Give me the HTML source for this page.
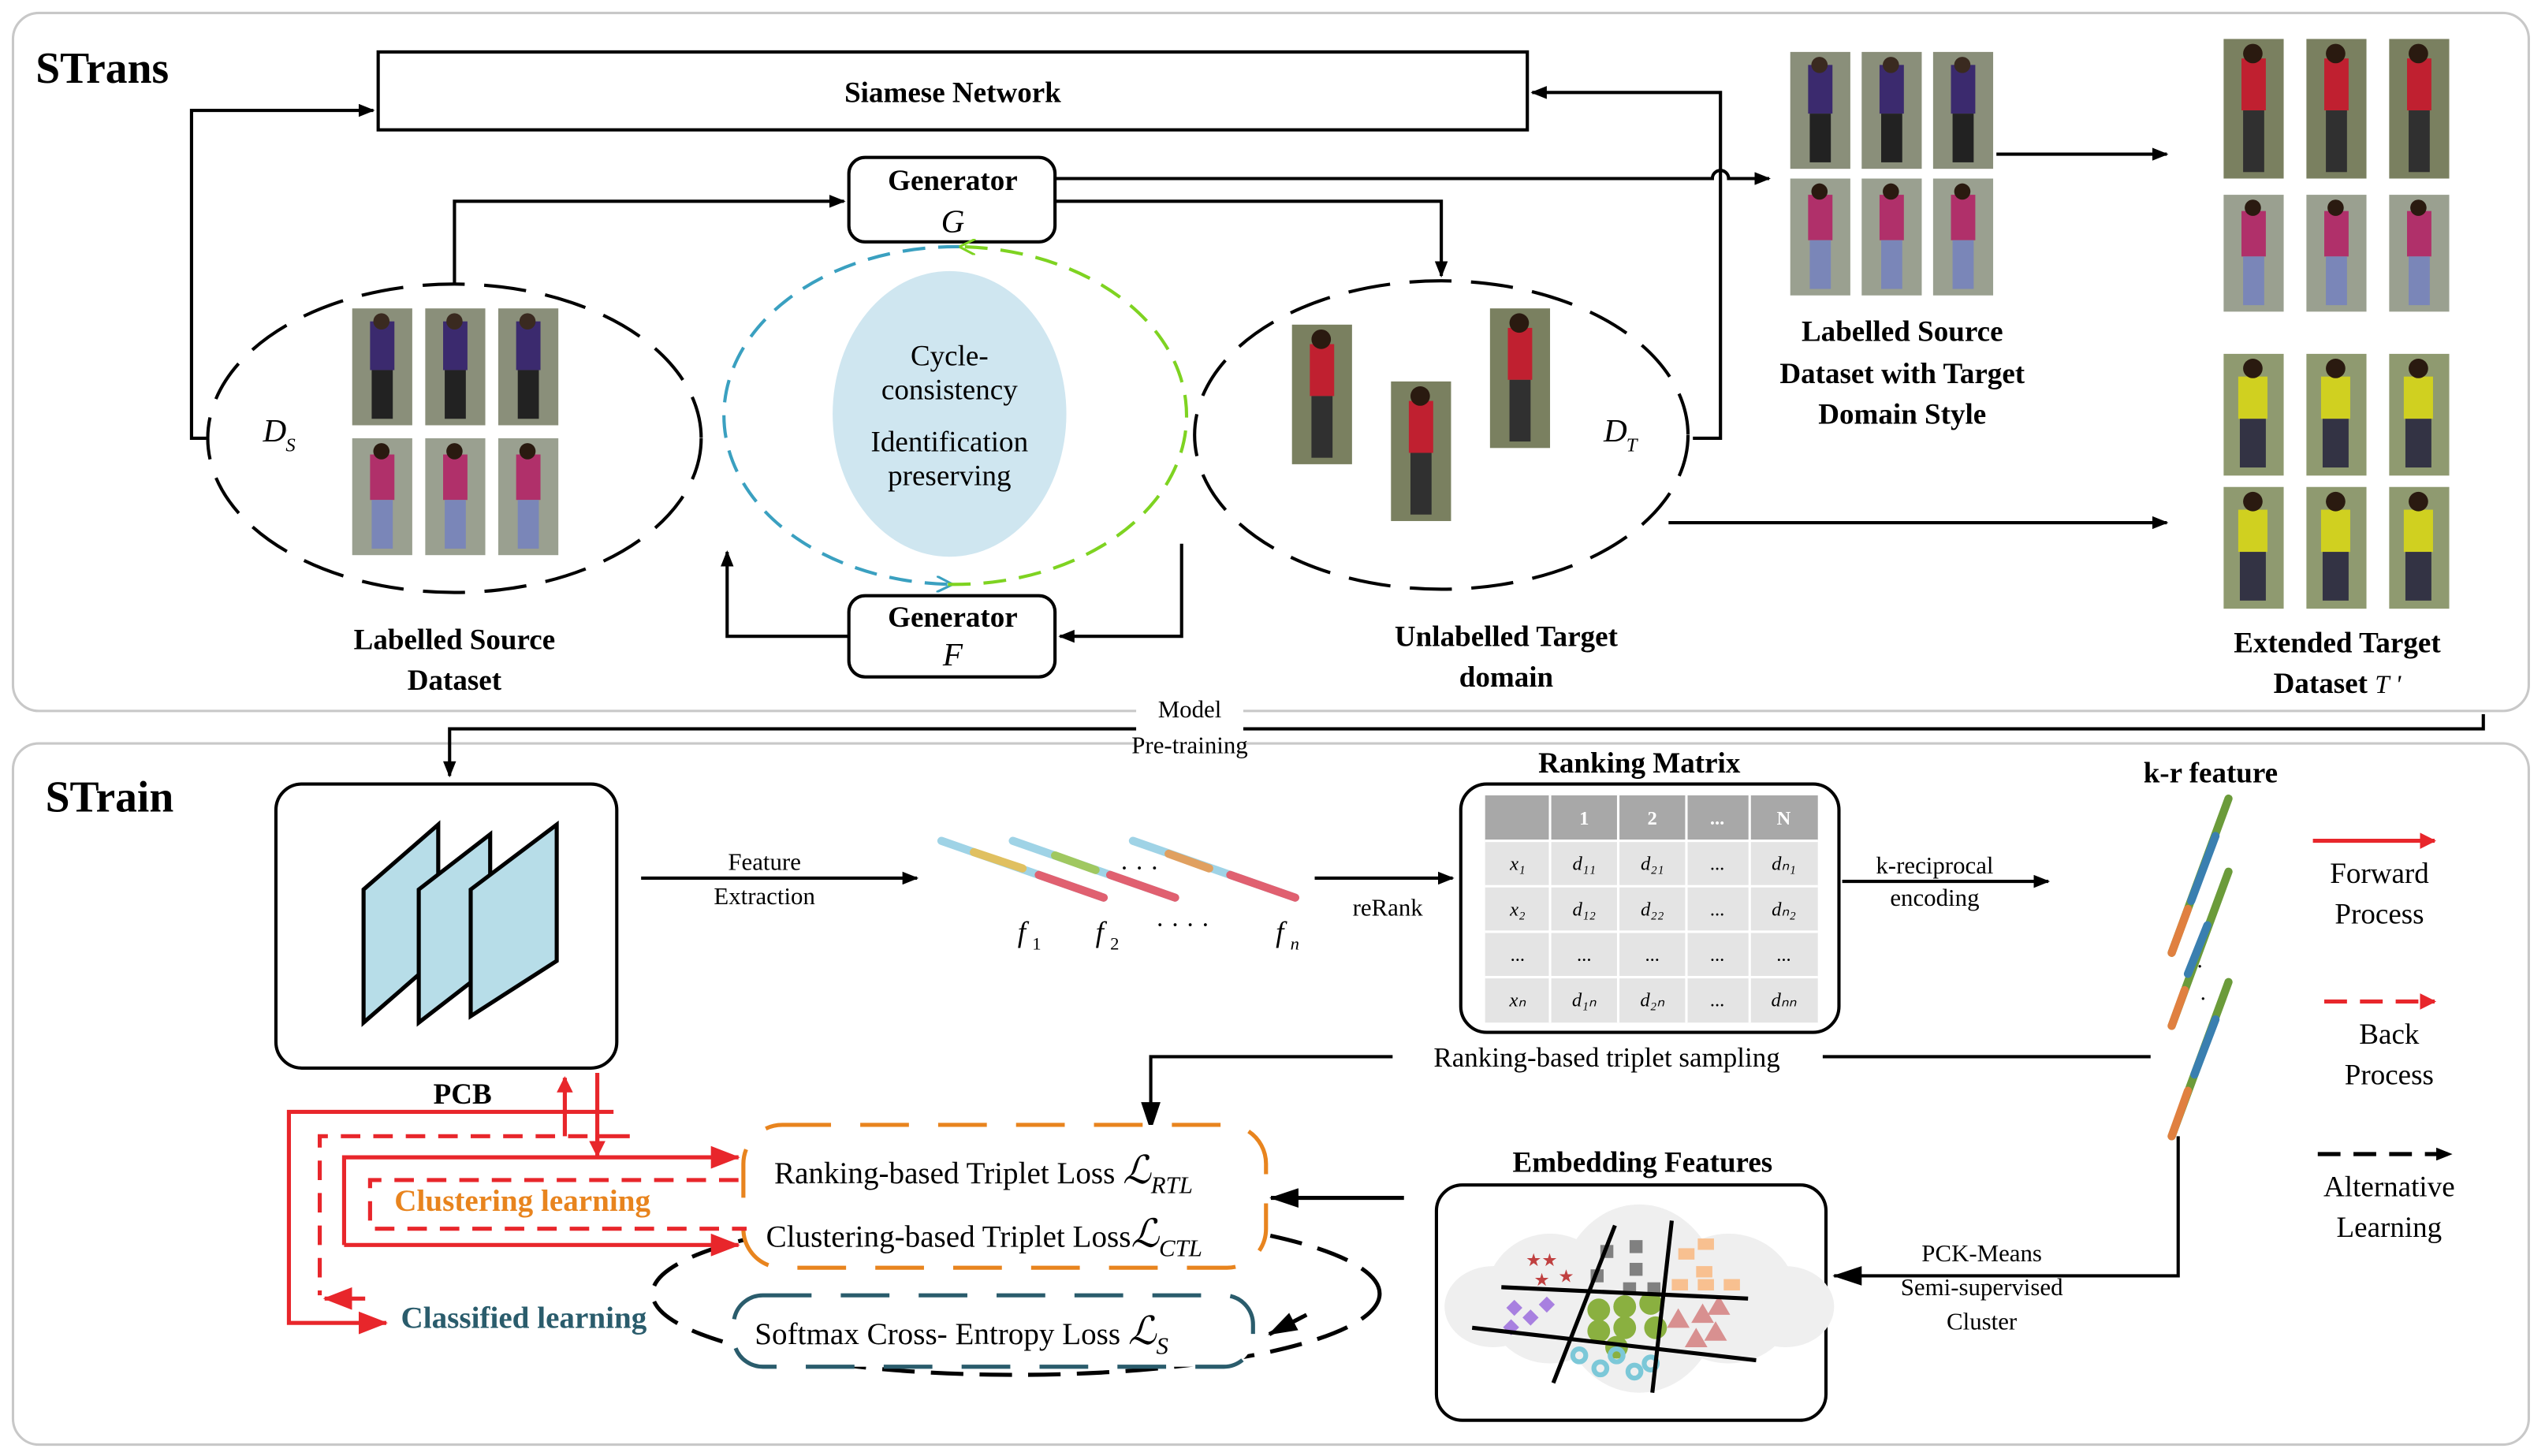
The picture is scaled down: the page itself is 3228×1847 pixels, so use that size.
<!DOCTYPE html>
<html><head><meta charset="utf-8"><style>
html,body{margin:0;padding:0;background:#fff;}
svg{display:block;}
text{font-family:"Liberation Serif",serif;}
.b{font-weight:bold;}
</style></head><body>
<svg width="3228" height="1847" viewBox="0 0 1568 897" preserveAspectRatio="none" xmlns="http://www.w3.org/2000/svg">
<defs>
<marker id="ab" markerWidth="10" markerHeight="8" refX="9" refY="4" orient="auto" markerUnits="userSpaceOnUse"><path d="M0,0 L10,4 L0,8 z" fill="#000"/></marker>
<marker id="abL" markerWidth="18" markerHeight="12" refX="17" refY="6" orient="auto" markerUnits="userSpaceOnUse"><path d="M0,0 L18,6 L0,12 z" fill="#000"/></marker>
<marker id="ar" markerWidth="18" markerHeight="14" refX="17" refY="7" orient="auto" markerUnits="userSpaceOnUse"><path d="M0,0 L18,7 L0,14 z" fill="#e8262b"/></marker>
<marker id="ars" markerWidth="10" markerHeight="10" refX="9" refY="5" orient="auto" markerUnits="userSpaceOnUse"><path d="M0,0 L10,5 L0,10 z" fill="#e8262b"/></marker>
<marker id="ag" markerWidth="10" markerHeight="10" refX="9" refY="5" orient="auto" markerUnits="userSpaceOnUse"><path d="M0,0 L10,5 L0,10" fill="none" stroke="#7ed321" stroke-width="1.5"/></marker>
<marker id="abl" markerWidth="10" markerHeight="10" refX="9" refY="5" orient="auto" markerUnits="userSpaceOnUse"><path d="M0,0 L10,5 L0,10" fill="none" stroke="#3aa0c0" stroke-width="1.5"/></marker>
<g id="p1"><rect width="37" height="72" fill="#8a8f7a"/><rect x="11" y="8" width="15" height="30" fill="#3b2a6e"/><rect x="12" y="38" width="13" height="30" fill="#222"/><circle cx="18" cy="8" r="5" fill="#3a2a20"/></g>
<g id="p2"><rect width="37" height="72" fill="#9aa090"/><rect x="11" y="10" width="15" height="28" fill="#b0306a"/><rect x="12" y="38" width="13" height="30" fill="#7a86b8"/><circle cx="18" cy="8" r="5" fill="#2a1a10"/></g>
<g id="p3"><rect width="37" height="86" fill="#7a8060"/><rect x="11" y="12" width="15" height="32" fill="#c02030"/><rect x="12" y="44" width="13" height="38" fill="#303030"/><circle cx="18" cy="9" r="6" fill="#2a1a10"/></g>
<g id="p4"><rect width="37" height="75" fill="#8f9a70"/><rect x="9" y="14" width="18" height="26" fill="#d0d020"/><rect x="10" y="40" width="16" height="30" fill="#334"/><circle cx="18" cy="9" r="6" fill="#2a1a10"/></g>
</defs>

<rect x="8" y="8" width="1550" height="430" rx="16" fill="none" stroke="#c8c8c8" stroke-width="1.5"/>
<rect x="8" y="458" width="1550" height="432" rx="16" fill="none" stroke="#c8c8c8" stroke-width="1.5"/>
<text x="22" y="51" font-size="27" class="b">STrans</text>
<text x="28" y="500" font-size="27" class="b">STrain</text>

<rect x="233" y="32" width="708" height="48" fill="#fff" stroke="#000" stroke-width="2"/>
<text x="587" y="63" font-size="18" class="b" text-anchor="middle">Siamese Network</text>
<path d="M127,270 L118,270 L118,68 L230,68" fill="none" stroke="#000" stroke-width="2" marker-end="url(#ab)"/>
<path d="M1043,270 L1060,270 L1060,57 L944,57" fill="none" stroke="#000" stroke-width="2" marker-end="url(#ab)"/>

<rect x="523" y="97" width="127" height="52" rx="10" fill="#fff" stroke="#000" stroke-width="2"/>
<text x="587" y="117" font-size="18" class="b" text-anchor="middle">Generator</text>
<text x="587" y="143" font-size="20" font-style="italic" text-anchor="middle">G</text>
<rect x="523" y="367" width="127" height="50" rx="10" fill="#fff" stroke="#000" stroke-width="2"/>
<text x="587" y="386" font-size="18" class="b" text-anchor="middle">Generator</text>
<text x="587" y="410" font-size="20" font-style="italic" text-anchor="middle">F</text>
<path d="M280,175 L280,124 L520,124" fill="none" stroke="#000" stroke-width="2" marker-end="url(#ab)"/>
<path d="M650,124 L888,124 L888,170" fill="none" stroke="#000" stroke-width="2" marker-end="url(#ab)"/>
<path d="M650,110 L1055,110 A5,5 0 0 1 1065,110 L1090,110" fill="none" stroke="#000" stroke-width="2" marker-end="url(#ab)"/>
<path d="M728,335 L728,392 L653,392" fill="none" stroke="#000" stroke-width="2" marker-end="url(#ab)"/>
<path d="M523,392 L448,392 L448,340" fill="none" stroke="#000" stroke-width="2" marker-end="url(#ab)"/>

<ellipse cx="280" cy="270" rx="152" ry="95" fill="none" stroke="#000" stroke-width="2" stroke-dasharray="26,12"/>
<ellipse cx="888" cy="268" rx="152" ry="95" fill="none" stroke="#000" stroke-width="2" stroke-dasharray="26,12"/>
<path d="M592,152 A143,104 0 0 0 586,360" fill="none" stroke="#3aa0c0" stroke-width="2" stroke-dasharray="14,8" marker-end="url(#abl)"/>
<path d="M584,360 A143,104 0 0 0 592,152" fill="none" stroke="#7ed321" stroke-width="2" stroke-dasharray="14,8" marker-end="url(#ag)"/>
<ellipse cx="585" cy="255" rx="72" ry="88" fill="#cfe6f0"/>
<text x="585" y="225" font-size="18" text-anchor="middle">Cycle-</text>
<text x="585" y="246" font-size="18" text-anchor="middle">consistency</text>
<text x="585" y="278" font-size="18" text-anchor="middle">Identification</text>
<text x="585" y="299" font-size="18" text-anchor="middle">preserving</text>

<text x="162" y="272" font-size="20" font-style="italic">D</text><text x="176" y="278" font-size="12" font-style="italic">S</text>
<text x="988" y="272" font-size="20" font-style="italic">D</text><text x="1002" y="278" font-size="12" font-style="italic">T</text>

<use href="#p1" x="217" y="190"/><use href="#p1" x="262" y="190"/><use href="#p1" x="307" y="190"/>
<use href="#p2" x="217" y="270"/><use href="#p2" x="262" y="270"/><use href="#p2" x="307" y="270"/>
<use href="#p3" x="796" y="200"/><use href="#p3" x="857" y="235"/><use href="#p3" x="918" y="190"/>
<text x="280" y="400" font-size="18" class="b" text-anchor="middle">Labelled Source</text>
<text x="280" y="425" font-size="18" class="b" text-anchor="middle">Dataset</text>
<text x="928" y="398" font-size="18" class="b" text-anchor="middle">Unlabelled Target</text>
<text x="928" y="423" font-size="18" class="b" text-anchor="middle">domain</text>

<use href="#p1" x="1103" y="32"/><use href="#p1" x="1147" y="32"/><use href="#p1" x="1191" y="32"/>
<use href="#p2" x="1103" y="110"/><use href="#p2" x="1147" y="110"/><use href="#p2" x="1191" y="110"/>
<text x="1172" y="210" font-size="18" class="b" text-anchor="middle">Labelled Source</text>
<text x="1172" y="236" font-size="18" class="b" text-anchor="middle">Dataset with Target</text>
<text x="1172" y="261" font-size="18" class="b" text-anchor="middle">Domain Style</text>
<line x1="1230" y1="95" x2="1335" y2="95" stroke="#000" stroke-width="2" marker-end="url(#ab)"/>
<line x1="1028" y1="322" x2="1335" y2="322" stroke="#000" stroke-width="2" marker-end="url(#ab)"/>

<use href="#p3" x="1370" y="24"/><use href="#p3" x="1421" y="24"/><use href="#p3" x="1472" y="24"/>
<use href="#p2" x="1370" y="120"/><use href="#p2" x="1421" y="120"/><use href="#p2" x="1472" y="120"/>
<use href="#p4" x="1370" y="218"/><use href="#p4" x="1421" y="218"/><use href="#p4" x="1472" y="218"/>
<use href="#p4" x="1370" y="300"/><use href="#p4" x="1421" y="300"/><use href="#p4" x="1472" y="300"/>
<text x="1440" y="402" font-size="18" class="b" text-anchor="middle">Extended Target</text>
<text x="1440" y="427" font-size="18" class="b" text-anchor="middle">Dataset <tspan font-weight="normal" font-style="italic" font-size="16">T '</tspan></text>

<path d="M1530,440 L1530,449 L277,449 L277,478" fill="none" stroke="#000" stroke-width="2" marker-end="url(#ab)"/>
<rect x="700" y="428" width="66" height="38" fill="#fff"/>
<text x="733" y="442" font-size="15" text-anchor="middle">Model</text>
<text x="733" y="464" font-size="15" text-anchor="middle">Pre-training</text>

<rect x="170" y="483" width="210" height="175" rx="16" fill="#fff" stroke="#000" stroke-width="2"/>
<g stroke="#000" stroke-width="2.5" fill="#b7dde8">
<path d="M224,548 L270,508 L270,590 L224,630 z"/>
<path d="M258,548 L302,514 L302,596 L258,630 z"/>
<path d="M290,548 L343,508 L343,592 L290,626 z"/>
</g>
<text x="285" y="680" font-size="18" class="b" text-anchor="middle">PCB</text>

<line x1="395" y1="541" x2="565" y2="541" stroke="#000" stroke-width="2" marker-end="url(#ab)"/>
<text x="471" y="536" font-size="15" text-anchor="middle">Feature</text>
<text x="471" y="557" font-size="15" text-anchor="middle">Extraction</text>
<g stroke-width="5" stroke-linecap="round">
<line x1="580" y1="518" x2="680" y2="553" stroke="#9fd3e6"/><line x1="640" y1="539" x2="680" y2="553" stroke="#e06070"/><line x1="600" y1="525" x2="630" y2="535" stroke="#e0c060"/>
<line x1="624" y1="518" x2="724" y2="553" stroke="#9fd3e6"/><line x1="684" y1="539" x2="724" y2="553" stroke="#e06070"/><line x1="650" y1="527" x2="675" y2="536" stroke="#a0c860"/>
<line x1="698" y1="518" x2="798" y2="553" stroke="#9fd3e6"/><line x1="758" y1="539" x2="798" y2="553" stroke="#e06070"/><line x1="720" y1="526" x2="745" y2="535" stroke="#e0a060"/>
</g>
<text x="690" y="540" font-size="16">· · ·</text>
<text x="712" y="575" font-size="16">· · · ·</text>
<text x="627" y="580" font-size="18" font-style="italic">f</text><text x="636" y="585" font-size="11">1</text>
<text x="675" y="580" font-size="18" font-style="italic">f</text><text x="684" y="585" font-size="11">2</text>
<text x="786" y="580" font-size="18" font-style="italic">f</text><text x="795" y="585" font-size="11" font-style="italic">n</text>
<line x1="810" y1="541" x2="895" y2="541" stroke="#000" stroke-width="2" marker-end="url(#ab)"/>
<text x="855" y="564" font-size="15" text-anchor="middle">reRank</text>

<text x="1010" y="476" font-size="18" class="b" text-anchor="middle">Ranking Matrix</text>
<rect x="900" y="483" width="233" height="153" rx="16" fill="#fff" stroke="#000" stroke-width="2"/>
<rect x="915" y="490" width="205" height="28" fill="#a8a8a8"/>
<rect x="915" y="518" width="205" height="112" fill="#e4e4e4"/>
<g stroke="#fff" stroke-width="1.5">
<line x1="955" y1="490" x2="955" y2="630"/><line x1="997" y1="490" x2="997" y2="630"/><line x1="1039" y1="490" x2="1039" y2="630"/><line x1="1078" y1="490" x2="1078" y2="630"/>
<line x1="915" y1="518" x2="1120" y2="518"/><line x1="915" y1="546" x2="1120" y2="546"/><line x1="915" y1="574" x2="1120" y2="574"/><line x1="915" y1="602" x2="1120" y2="602"/>
</g>
<g font-size="12" text-anchor="middle">
<text x="976" y="508" fill="#fff" class="b">1</text><text x="1018" y="508" fill="#fff" class="b">2</text><text x="1058" y="508" fill="#fff" class="b">...</text><text x="1099" y="508" fill="#fff" class="b">N</text>
<text x="935" y="536" font-style="italic">x₁</text><text x="976" y="536" font-style="italic">d₁₁</text><text x="1018" y="536" font-style="italic">d₂₁</text><text x="1058" y="536">...</text><text x="1099" y="536" font-style="italic">dₙ₁</text>
<text x="935" y="564" font-style="italic">x₂</text><text x="976" y="564" font-style="italic">d₁₂</text><text x="1018" y="564" font-style="italic">d₂₂</text><text x="1058" y="564">...</text><text x="1099" y="564" font-style="italic">dₙ₂</text>
<text x="935" y="592">...</text><text x="976" y="592">...</text><text x="1018" y="592">...</text><text x="1058" y="592">...</text><text x="1099" y="592">...</text>
<text x="935" y="620" font-style="italic">xₙ</text><text x="976" y="620" font-style="italic">d₁ₙ</text><text x="1018" y="620" font-style="italic">d₂ₙ</text><text x="1058" y="620">...</text><text x="1099" y="620" font-style="italic">dₙₙ</text>
</g>
<line x1="1135" y1="543" x2="1262" y2="543" stroke="#000" stroke-width="2" marker-end="url(#ab)"/>
<text x="1192" y="538" font-size="15" text-anchor="middle">k-reciprocal</text>
<text x="1192" y="558" font-size="15" text-anchor="middle">encoding</text>

<text x="1362" y="482" font-size="18" class="b" text-anchor="middle">k-r feature</text>
<g stroke-width="5" stroke-linecap="round">
<line x1="1373" y1="492" x2="1338" y2="587" stroke="#6b9b3a"/><line x1="1365" y1="515" x2="1350" y2="555" stroke="#3a7fb0"/><line x1="1348" y1="560" x2="1338" y2="587" stroke="#e08040"/>
<line x1="1373" y1="537" x2="1338" y2="632" stroke="#6b9b3a"/><line x1="1360" y1="570" x2="1348" y2="600" stroke="#3a7fb0"/><line x1="1346" y1="610" x2="1338" y2="632" stroke="#e08040"/>
<line x1="1373" y1="605" x2="1338" y2="700" stroke="#6b9b3a"/><line x1="1365" y1="628" x2="1352" y2="662" stroke="#3a7fb0"/><line x1="1348" y1="672" x2="1338" y2="700" stroke="#e08040"/>
</g>
<text x="1353" y="600" font-size="14">·</text><text x="1355" y="620" font-size="14">·</text>

<line x1="1425" y1="518" x2="1500" y2="518" stroke="#e8262b" stroke-width="2.5" marker-end="url(#ars)"/>
<text x="1466" y="544" font-size="18" text-anchor="middle">Forward</text>
<text x="1466" y="569" font-size="18" text-anchor="middle">Process</text>
<line x1="1432" y1="617" x2="1500" y2="617" stroke="#e8262b" stroke-width="2.5" stroke-dasharray="14,8" marker-end="url(#ars)"/>
<text x="1472" y="643" font-size="18" text-anchor="middle">Back</text>
<text x="1472" y="668" font-size="18" text-anchor="middle">Process</text>
<line x1="1428" y1="711" x2="1510" y2="711" stroke="#000" stroke-width="2.5" stroke-dasharray="14,8" marker-end="url(#ab)"/>
<text x="1472" y="737" font-size="18" text-anchor="middle">Alternative</text>
<text x="1472" y="762" font-size="18" text-anchor="middle">Learning</text>

<path d="M1325,651 L709,651 L709,696" fill="none" stroke="#000" stroke-width="2" marker-end="url(#abL)"/>
<rect x="858" y="640" width="265" height="20" fill="#fff"/>
<text x="990" y="657" font-size="17" text-anchor="middle">Ranking-based triplet sampling</text>

<path d="M1342,700 L1342,786 L1130,786" fill="none" stroke="#000" stroke-width="2" marker-end="url(#abL)"/>
<text x="1221" y="777" font-size="15" text-anchor="middle">PCK-Means</text>
<text x="1221" y="798" font-size="15" text-anchor="middle">Semi-supervised</text>
<text x="1221" y="819" font-size="15" text-anchor="middle">Cluster</text>

<text x="1012" y="722" font-size="18" class="b" text-anchor="middle">Embedding Features</text>
<rect x="885" y="730" width="240" height="145" rx="16" fill="#fff" stroke="#000" stroke-width="2"/>
<g fill="#efefef">
<ellipse cx="1010" cy="800" rx="50" ry="58"/><ellipse cx="955" cy="800" rx="40" ry="40"/><ellipse cx="1065" cy="800" rx="42" ry="40"/><ellipse cx="920" cy="805" rx="30" ry="25"/><ellipse cx="1100" cy="805" rx="30" ry="25"/>
</g>
<g fill="#c04040" font-size="11"><text x="940" y="780">★★</text><text x="960" y="790">★</text><text x="945" y="792">★</text></g>
<g fill="#808080"><rect x="986" y="767" width="8" height="8"/><rect x="1004" y="764" width="8" height="8"/><rect x="1004" y="778" width="8" height="8"/><rect x="980" y="782" width="8" height="8"/><rect x="1000" y="790" width="8" height="8"/><rect x="1015" y="790" width="8" height="8"/></g>
<g fill="#f8c090"><rect x="1034" y="769" width="10" height="7"/><rect x="1046" y="763" width="10" height="7"/><rect x="1045" y="780" width="10" height="7"/><rect x="1030" y="788" width="10" height="7"/><rect x="1046" y="788" width="10" height="7"/><rect x="1062" y="788" width="10" height="7"/></g>
<g fill="#a880e0"><rect x="930" y="802" width="7" height="7" transform="rotate(45 933 805)"/><rect x="940" y="808" width="7" height="7" transform="rotate(45 943 811)"/><rect x="950" y="800" width="7" height="7" transform="rotate(45 953 803)"/><rect x="928" y="814" width="7" height="7" transform="rotate(45 931 817)"/></g>
<g fill="#8ab040"><circle cx="985" cy="807" r="7"/><circle cx="1001" cy="805" r="7"/><circle cx="1017" cy="803" r="7"/><circle cx="985" cy="820" r="7"/><circle cx="1001" cy="818" r="7"/><circle cx="1020" cy="818" r="7"/><circle cx="996" cy="830" r="7"/></g>
<g fill="#d89090"><path d="M1027,818 L1034,806 L1041,818z"/><path d="M1042,815 L1049,803 L1056,815z"/><path d="M1052,810 L1059,798 L1066,810z"/><path d="M1038,830 L1045,818 L1052,830z"/><path d="M1050,826 L1057,814 L1064,826z"/></g>
<g fill="none" stroke="#7cc8d8" stroke-width="3"><circle cx="973" cy="835" r="4"/><circle cx="986" cy="843" r="4"/><circle cx="996" cy="835" r="4"/><circle cx="1007" cy="845" r="4"/><circle cx="1017" cy="840" r="4"/></g>
<g stroke="#000" stroke-width="2.5">
<line x1="925" y1="793" x2="1077" y2="800"/><line x1="907" y1="818" x2="1082" y2="838"/>
<line x1="995" y1="755" x2="957" y2="852"/><line x1="1030" y1="752" x2="1018" y2="858"/>
</g>
<line x1="865" y1="738" x2="783" y2="738" stroke="#000" stroke-width="2.5" marker-end="url(#abL)"/>

<!-- loss shapes -->
<ellipse cx="626" cy="797" rx="224" ry="50" fill="none" stroke="#000" stroke-width="2.5" stroke-dasharray="20,10"/>
<path d="M805,810 L782,822" fill="none" stroke="#000" stroke-width="2.5" marker-end="url(#abL)"/>
<rect x="458" y="693" width="322" height="88" rx="24" fill="#fff" stroke="#e8841e" stroke-width="2.5" stroke-dasharray="30,18"/>
<rect x="452" y="798" width="320" height="44" rx="18" fill="#fff" stroke="#2a5c6c" stroke-width="2.5" stroke-dasharray="30,18"/>
<text x="477" y="729" font-size="19">Ranking-based Triplet Loss <tspan font-style="italic" font-size="24">ℒ</tspan><tspan font-style="italic" font-size="15" dy="6">RTL</tspan></text>
<text x="472" y="768" font-size="19">Clustering-based Triplet Loss<tspan font-style="italic" font-size="24">ℒ</tspan><tspan font-style="italic" font-size="15" dy="6">CTL</tspan></text>
<text x="465" y="828" font-size="19">Softmax Cross- Entropy Loss <tspan font-style="italic" font-size="24">ℒ</tspan><tspan font-style="italic" font-size="15" dy="6">S</tspan></text>

<g fill="none" stroke="#e8262b" stroke-width="2.5">
<path d="M368,661 L368,708"/>
<path d="M348,700 L348,664" marker-end="url(#ars)"/>
<path d="M378,685 L178,685 L178,815 L238,815" marker-end="url(#ar)"/>
<path d="M212,767 L212,713 L455,713" marker-end="url(#ar)"/>
<path d="M212,767 L455,767" marker-end="url(#ar)"/>
<path d="M388,700 L368,700 L368,712" marker-end="url(#ars)"/>
</g>
<g fill="none" stroke="#e8262b" stroke-width="2.5" stroke-dasharray="12,8">
<path d="M362,700 L197,700 L197,798"/>
<path d="M225,800 L200,800" marker-end="url(#ar)"/>
<path d="M455,727 L228,727 L228,757 L460,757"/>
</g>
<text x="243" y="746" font-size="19" class="b" fill="#e8841e">Clustering learning</text>
<text x="247" y="818" font-size="19" class="b" fill="#2a5c6c">Classified learning</text>
</svg>
</body></html>
